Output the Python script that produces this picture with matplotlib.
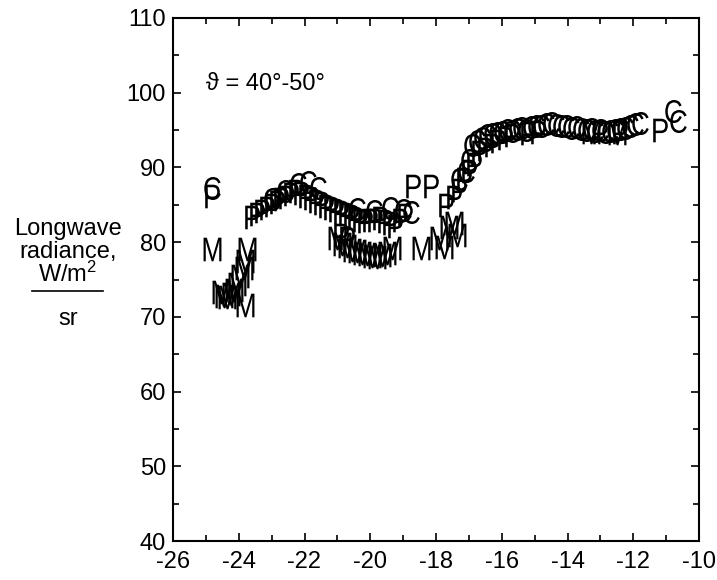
import matplotlib
matplotlib.use('Agg')
import numpy as np
import matplotlib.pyplot as plt
from matplotlib.textpath import TextPath
from matplotlib.font_manager import FontProperties
from matplotlib.transforms import Affine2D
from matplotlib.lines import Line2D

plt.rcParams['font.family'] = ['Liberation Sans', 'DejaVu Sans']
plt.rcParams['axes.unicode_minus'] = False

# series "C"
c_x = [-24.8, -23.0, -22.6, -22.2, -21.9, -21.6, -20.4, -19.9, -19.4, -19.0, -18.75,
       -17.3, -17.1, -17.0,
       -16.9, -16.75, -16.6, -16.45, -16.3, -16.15, -16.0, -15.85, -15.7, -15.55,
       -15.4, -15.25, -15.1, -14.95, -14.8, -14.65, -14.5, -14.35, -14.2, -14.05,
       -13.9, -13.75, -13.6, -13.45, -13.3, -13.15, -13.0, -12.85, -12.7, -12.55,
       -12.4, -12.25, -12.1, -11.95, -11.8, -10.8, -10.65]
c_y = [87.3, 85.8, 86.8, 87.8, 88.0, 87.3, 84.5, 84.2, 84.6, 84.3, 84.0,
       88.5, 89.5, 91.0,
       93.0, 93.6, 94.0, 94.3, 94.5, 94.6, 94.8, 95.0, 94.9, 95.1,
       95.3, 95.0, 95.4, 95.6, 95.5, 95.8, 96.0, 95.7, 95.6, 95.5,
       95.3, 95.4, 95.2, 95.0, 95.1, 94.9, 95.0, 94.8, 94.9, 95.0,
       95.2, 95.3, 95.5, 95.8, 96.0, 97.6, 96.2]

# series "P"
p_x = [-24.8, -23.6, -23.45, -23.3, -23.15, -23.0, -22.85, -22.7, -22.55, -22.4,
       -22.25, -22.1, -21.95, -21.8, -21.65, -21.5, -21.35, -21.2, -21.05, -20.9,
       -20.75, -20.6, -20.45, -20.3, -20.15, -20.0, -19.85, -19.7, -19.55, -19.4,
       -19.25, -19.1, -18.95, -20.9, -20.7, -18.7, -18.15, -17.7, -17.45, -17.3,
       -17.15, -17.0, -16.85, -16.7, -16.5, -16.3, -16.1, -15.9, -15.7, -15.2,
       -14.9, -13.0, -12.4, -11.2]
p_y = [86.2, 83.3, 83.8, 84.2, 84.6, 85.0, 85.4, 85.8, 86.0, 86.4,
       86.8, 86.6, 86.2, 85.9, 85.5, 85.2, 84.8, 84.6, 84.3, 84.0,
       83.8, 83.5, 83.2, 83.0, 82.8, 82.9, 83.0, 83.2, 82.8, 82.5,
       82.2, 83.0, 83.6, 81.0, 80.6, 87.5, 87.5, 85.0, 86.0, 87.0,
       88.5, 89.5, 90.5, 92.0, 92.5, 93.0, 93.5, 94.0, 94.3, 94.6,
       94.8, 94.8, 94.8, 95.0]

# series "M"
m_x = [-24.8, -23.75, -24.55, -24.45, -24.35, -24.25, -24.15, -24.05, -23.95, -23.85,
       -23.8, -23.8, -21.0, -20.85, -20.7, -20.55, -20.4, -20.25, -20.1, -19.95,
       -19.8, -19.65, -19.5, -19.35, -18.45, -17.9, -17.75, -17.6, -17.45, -17.35,
       -13.3, -12.5]
m_y = [79.1, 79.1, 73.3, 72.8, 72.6, 73.0, 73.6, 74.4, 75.5, 76.5,
       71.6, 77.5, 80.5, 79.8, 79.5, 79.0, 78.8, 78.5, 78.4, 78.2,
       78.0, 78.3, 78.6, 79.2, 79.2, 80.5, 79.3, 82.0, 82.5, 81.0,
       94.8, 94.6]


def letter(ch, squeeze=0.8):
    p = TextPath((0, 0), ch, size=1, prop=FontProperties(family='Liberation Sans'))
    e = p.get_extents()
    return p.transformed(Affine2D().translate(-(e.x0 + e.x1) / 2, -(e.y0 + e.y1) / 2).scale(squeeze, 1))


fig = plt.figure(figsize=(7.17, 5.80), dpi=100)
ax = fig.add_axes([173 / 717, 1 - 541 / 580, 526 / 717, 523 / 580])

s = 17.0 ** 2
ax.scatter(m_x, m_y, marker=letter('M', 0.78), s=s, c='k', linewidths=0)
ax.scatter(p_x, p_y, marker=letter('P'), s=s, c='k', linewidths=0)
ax.scatter(c_x, c_y, marker=letter('C'), s=s * 0.95, c='k', linewidths=0)

ax.set_xlim(-26, -10)
ax.set_ylim(40, 110)
ax.set_xticks(np.arange(-26, -9, 2))
ax.set_xticks(np.arange(-26, -9, 1), minor=True)
ax.set_yticks(np.arange(40, 111, 10))
ax.set_yticks(np.arange(40, 111, 5), minor=True)
ax.tick_params(which='both', direction='in', top=True, right=True, width=1.2, labelsize=17)
ax.tick_params(which='major', length=6)
ax.tick_params(which='minor', length=4)
ax.tick_params(axis='x', pad=7)
ax.tick_params(axis='y', pad=5)
for sp in ax.spines.values():
    sp.set_linewidth(1.5)

ax.text(-25.0, 101.2, 'ϑ = 40°-50°', fontsize=17, va='center', ha='left')

fx = 68 / 717
fig.text(fx, 1 - 235 / 580, 'Longwave', fontsize=17, ha='center', va='baseline')
fig.text(fx, 1 - 258 / 580, 'radiance,', fontsize=17, ha='center', va='baseline')
fig.text(fx, 1 - 282 / 580, r'$\mathregular{W/m^2}$', fontsize=17, ha='center', va='baseline')
fig.add_artist(Line2D([32 / 717, 103 / 717], [1 - 291 / 580] * 2, transform=fig.transFigure,
                      color='k', lw=1.2))
fig.text(fx, 1 - 325 / 580, 'sr', fontsize=17, ha='center', va='baseline')

plt.savefig('out.png', dpi=100)
